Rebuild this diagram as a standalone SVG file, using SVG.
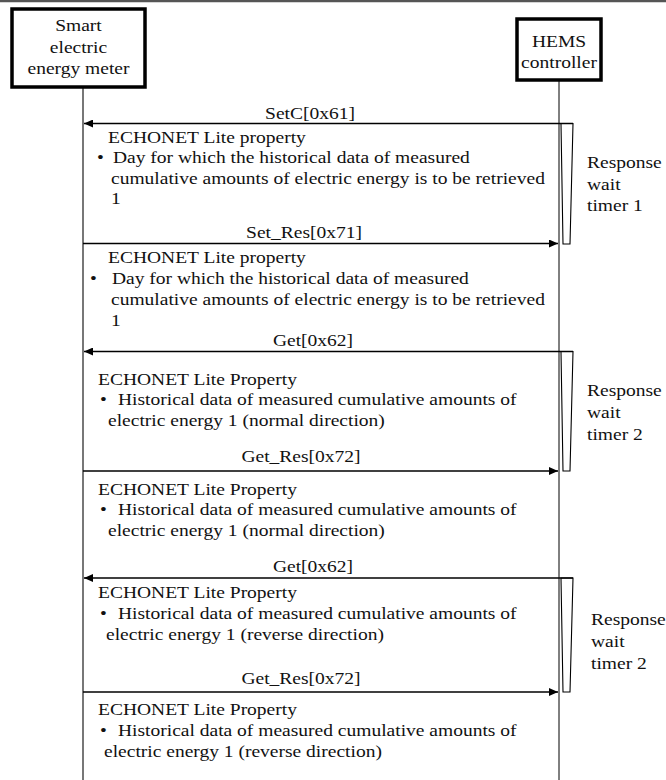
<svg xmlns="http://www.w3.org/2000/svg" width="666" height="780" viewBox="0 0 666 780">
<defs>
<marker id="ah" markerWidth="10" markerHeight="8" refX="9" refY="4" orient="auto" markerUnits="userSpaceOnUse">
<path d="M0,0 L9,4 L0,8 Z" fill="#000"/>
</marker>
<style>
text{font-family:"Liberation Serif","DejaVu Serif",serif;font-size:16px;fill:#111}
.c{text-anchor:middle}
.box{fill:#fff;stroke:#000;stroke-width:3.5}
.msg{stroke:#000;stroke-width:1.4;fill:none}
.tim{fill:#fff;stroke:#000;stroke-width:1.1}
.ll{stroke:#555;stroke-width:1.6;fill:none}
.lr{stroke:#000;stroke-width:1;fill:none}
</style>
</defs>
<rect x="0" y="0" width="666" height="780" fill="#fff"/>
<line x1="0" y1="1" x2="666" y2="1" stroke="#555" stroke-width="2.5"/>

<g id="lifelines">
<line class="ll" x1="83" y1="87" x2="83" y2="780"/>
<line class="lr" x1="559" y1="80" x2="559" y2="780"/>
</g>

<g font-family="'Liberation Serif', 'DejaVu Serif', serif">
<g id="meter">
<rect class="box" x="12" y="9" width="133" height="78"/>
<text class="c" transform="matrix(1.22 0 0 1 78.5 31)">Smart</text>
<text class="c" transform="matrix(1.22 0 0 1 78.5 52.5)">electric</text>
<text class="c" transform="matrix(1.22 0 0 1 78.5 74)">energy meter</text>
</g>

<g id="hems">
<rect class="box" x="517" y="19" width="84" height="61"/>
<text class="c" transform="matrix(1.22 0 0 1 559 47)">HEMS</text>
<text class="c" transform="matrix(1.22 0 0 1 559 68)">controller</text>
</g>

<g id="timers">
<polygon class="tim" points="561,123.5 573,123.5 570,244 563,244"/>
<polygon class="tim" points="561,351.5 573,351.5 570,471 563,471"/>
<polygon class="tim" points="561,578 573,578 570,692 563,692"/>
<text transform="matrix(1.22 0 0 1 587 168)">Response</text>
<text transform="matrix(1.22 0 0 1 587 190)">wait</text>
<text transform="matrix(1.22 0 0 1 587 211)">timer 1</text>
<text transform="matrix(1.22 0 0 1 587 396)">Response</text>
<text transform="matrix(1.22 0 0 1 587 418)">wait</text>
<text transform="matrix(1.22 0 0 1 587 440)">timer 2</text>
<text transform="matrix(1.22 0 0 1 591 625)">Response</text>
<text transform="matrix(1.22 0 0 1 591 647)">wait</text>
<text transform="matrix(1.22 0 0 1 591 669)">timer 2</text>
</g>

<g id="connectors">
<line class="msg" x1="573" y1="123.5" x2="84" y2="123.5" marker-end="url(#ah)"/>
<line class="msg" x1="83" y1="243.5" x2="558" y2="243.5" marker-end="url(#ah)"/>
<line class="msg" x1="573" y1="351.5" x2="84" y2="351.5" marker-end="url(#ah)"/>
<line class="msg" x1="83" y1="471" x2="558" y2="471" marker-end="url(#ah)"/>
<line class="msg" x1="573" y1="578" x2="84" y2="578" marker-end="url(#ah)"/>
<line class="msg" x1="83" y1="692" x2="558" y2="692" marker-end="url(#ah)"/>
<text class="c" transform="matrix(1.22 0 0 1 310 119)">SetC[0x61]</text>
<text class="c" transform="matrix(1.22 0 0 1 304 238)">Set_Res[0x71]</text>
<text class="c" transform="matrix(1.22 0 0 1 313 346)">Get[0x62]</text>
<text class="c" transform="matrix(1.22 0 0 1 301 462)">Get_Res[0x72]</text>
<text class="c" transform="matrix(1.22 0 0 1 313 572)">Get[0x62]</text>
<text class="c" transform="matrix(1.22 0 0 1 301 684)">Get_Res[0x72]</text>
</g>

<g id="notes">
<text transform="matrix(1.22 0 0 1 108 143)">ECHONET Lite property</text>
<text transform="matrix(1.22 0 0 1 97 163)">•</text>
<text transform="matrix(1.22 0 0 1 113 163)">Day for which the historical data of measured</text>
<text transform="matrix(1.22 0 0 1 111 184)">cumulative amounts of electric energy is to be retrieved</text>
<text transform="matrix(1.22 0 0 1 111 204)">1</text>

<text transform="matrix(1.22 0 0 1 108 263)">ECHONET Lite property</text>
<text transform="matrix(1.22 0 0 1 90 284)">•</text>
<text transform="matrix(1.22 0 0 1 112 284)">Day for which the historical data of measured</text>
<text transform="matrix(1.22 0 0 1 111 305)">cumulative amounts of electric energy is to be retrieved</text>
<text transform="matrix(1.22 0 0 1 111 326)">1</text>

<text transform="matrix(1.22 0 0 1 98 385)">ECHONET Lite Property</text>
<text transform="matrix(1.22 0 0 1 100 405)">•</text>
<text transform="matrix(1.22 0 0 1 118 405)">Historical data of measured cumulative amounts of</text>
<text transform="matrix(1.22 0 0 1 108 426)">electric energy 1 (normal direction)</text>

<text transform="matrix(1.22 0 0 1 98 495)">ECHONET Lite Property</text>
<text transform="matrix(1.22 0 0 1 100 515)">•</text>
<text transform="matrix(1.22 0 0 1 118 515)">Historical data of measured cumulative amounts of</text>
<text transform="matrix(1.22 0 0 1 108 536)">electric energy 1 (normal direction)</text>

<text transform="matrix(1.22 0 0 1 98 598)">ECHONET Lite Property</text>
<text transform="matrix(1.22 0 0 1 100 619)">•</text>
<text transform="matrix(1.22 0 0 1 118 619)">Historical data of measured cumulative amounts of</text>
<text transform="matrix(1.22 0 0 1 106 640)">electric energy 1 (reverse direction)</text>

<text transform="matrix(1.22 0 0 1 98 715)">ECHONET Lite Property</text>
<text transform="matrix(1.22 0 0 1 100 736)">•</text>
<text transform="matrix(1.22 0 0 1 118 736)">Historical data of measured cumulative amounts of</text>
<text transform="matrix(1.22 0 0 1 104 757)">electric energy 1 (reverse direction)</text>
</g>
</g>
</svg>
